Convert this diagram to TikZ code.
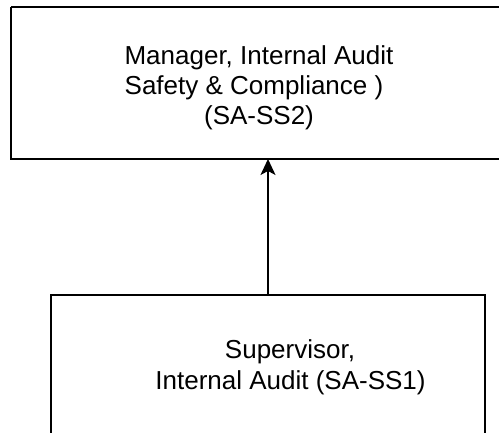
\documentclass[tikz,border=0pt]{standalone}
\usepackage{fontspec}
\setmainfont{Liberation Sans}
\usetikzlibrary{arrows.meta}
\begin{document}
\begin{tikzpicture}[x=1pt,y=-1pt,
  box/.style={draw=black,line width=1.5pt},
  lbl/.style={font=\fontsize{26}{30}\selectfont,inner sep=0pt,anchor=base},
  conn/.style={draw=black,line width=1.5pt,-{Stealth[length=16pt,width=15pt,inset=4pt]}}]
\useasboundingbox (0,0) rectangle (499,433);
\begin{scope}
\clip (0,0) rectangle (499,433);
\draw[box] (11,7) -- (520,7) (11,7) -- (11,159) -- (520,159);
\draw[box] (51,460) -- (51,295) -- (485,295) -- (485,460);
\coordinate (top) at (268,159);
\coordinate (bot) at (268,295);
\draw[conn] (bot) -- (top);
\end{scope}
\node[lbl] (t1) at (259,65) {Manager, Internal Audit};
\node[lbl] (t2) at (254,95) {Safety \& Compliance )};
\node[lbl] (t3) at (259,125) {(SA-SS2)};
\node[lbl] (b1) at (290,359) {Supervisor,};
\node[lbl] (b2) at (290.5,390) {Internal Audit (SA-SS1)};
\end{tikzpicture}
\end{document}
